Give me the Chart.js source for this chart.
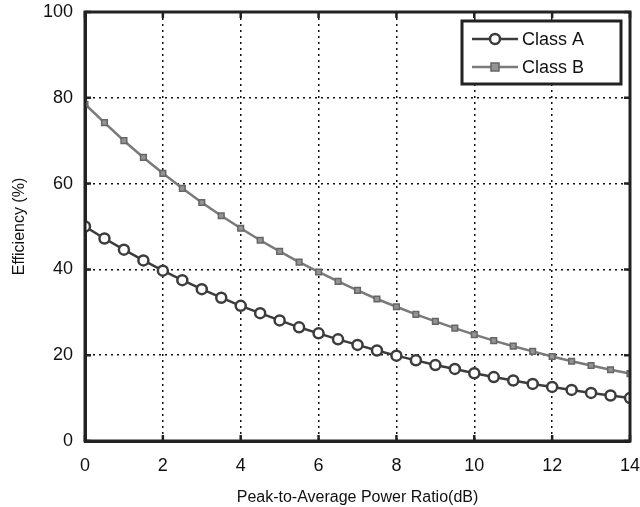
<!DOCTYPE html>
<html>
<head>
<meta charset="utf-8">
<script src="https://cdn.jsdelivr.net/npm/chart.js@4.4.0/dist/chart.umd.min.js"></script>
<style>
  html, body { margin: 0; padding: 0; background: #fff; }
  #wrap { width: 640px; height: 507px; }
</style>
</head>
<body>
<div id="wrap"><canvas id="effChart" width="640" height="507"></canvas></div>
<script>
// PAPR (dB), passo de 0.5
const papr = [0, 0.5, 1, 1.5, 2, 2.5, 3, 3.5, 4, 4.5, 5, 5.5, 6, 6.5, 7, 7.5, 8, 8.5, 9, 9.5, 10, 10.5, 11, 11.5, 12, 12.5, 13, 13.5, 14];
const classA = [50.0, 47.2, 44.6, 42.1, 39.7, 37.5, 35.4, 33.4, 31.5, 29.8, 28.1, 26.5, 25.1, 23.7, 22.4, 21.1, 19.9, 18.8, 17.7, 16.8, 15.8, 14.9, 14.1, 13.3, 12.6, 11.9, 11.2, 10.6, 10.0];
const classB = [78.5, 74.2, 70.0, 66.1, 62.4, 58.9, 55.6, 52.5, 49.6, 46.8, 44.2, 41.7, 39.4, 37.2, 35.1, 33.1, 31.3, 29.5, 27.9, 26.3, 24.8, 23.4, 22.1, 20.9, 19.7, 18.6, 17.6, 16.6, 15.7];
const xTicks = [0, 2, 4, 6, 8, 10, 12, 14];
const yTicks = [0, 20, 40, 60, 80, 100];
const seriesNames = ["Class A", "Class B"];

const FONT = "'Liberation Sans', Arial, sans-serif";

// legenda dentro da área do gráfico, canto superior direito
const boxLegend = {
    id: "boxLegend",
    afterDraw(chart) {
        const ctx = chart.ctx;
        const area = chart.chartArea;
        const x0 = area.right - 168, y0 = area.top + 9, w = 159, h = 63;
        ctx.save();
        ctx.fillStyle = "#fff";
        ctx.fillRect(x0, y0, w, h);
        ctx.strokeStyle = "#222";
        ctx.lineWidth = 3;
        ctx.strokeRect(x0, y0, w, h);
        chart.data.datasets.forEach((ds, i) => {
            const cy = y0 + 18 + i * 28;
            ctx.strokeStyle = ds.borderColor;
            ctx.lineWidth = ds.borderWidth;
            ctx.beginPath();
            ctx.moveTo(x0 + 10, cy);
            ctx.lineTo(x0 + 56, cy);
            ctx.stroke();
            ctx.lineWidth = ds.pointBorderWidth;
            ctx.fillStyle = ds.pointBackgroundColor;
            ctx.strokeStyle = ds.pointBorderColor;
            if (ds.pointStyle === "circle") {
                ctx.beginPath();
                ctx.arc(x0 + 33, cy, ds.pointRadius, 0, Math.PI * 2);
                ctx.fill();
                ctx.stroke();
            } else {
                const r = ds.pointRadius;
                ctx.fillRect(x0 + 33 - r, cy - r, 2 * r, 2 * r);
                ctx.strokeRect(x0 + 33 - r, cy - r, 2 * r, 2 * r);
            }
            ctx.fillStyle = "#111";
            ctx.font = "18px " + FONT;
            ctx.textBaseline = "middle";
            ctx.textAlign = "left";
            ctx.fillText(ds.label, x0 + 60, cy + 1);
        });
        ctx.restore();
    }
};

const ctxEl = document.getElementById("effChart");
new Chart(ctxEl, {
    type: "line",
    data: {
        labels: papr,
        datasets: [
            {
                label: seriesNames[0],
                data: papr.map((x, i) => ({ x: x, y: classA[i] })),
                borderColor: "#3c3c3c",
                borderWidth: 2.5,
                pointStyle: "circle",
                pointRadius: 5,
                pointBorderWidth: 2.5,
                pointBackgroundColor: "#fff",
                pointBorderColor: "#3c3c3c",
            },
            {
                label: seriesNames[1],
                data: papr.map((x, i) => ({ x: x, y: classB[i] })),
                borderColor: "#7a7a7a",
                borderWidth: 2.5,
                pointStyle: "rect",
                pointRadius: 4,
                pointBorderWidth: 1.5,
                pointBackgroundColor: "#949494",
                pointBorderColor: "#666",
            },
        ],
    },
    options: {
        animation: false,
        responsive: false,
        devicePixelRatio: 1,
        layout: { padding: { top: 12, right: 10, left: 0, bottom: 0 } },
        plugins: {
            legend: { display: false },
            tooltip: { enabled: false },
        },
        scales: {
            x: {
                type: "linear",
                min: 0,
                max: 14,
                afterBuildTicks: (axis) => { axis.ticks = xTicks.map(v => ({ value: v })); },
                border: { display: true, color: "#222", width: 3, dash: [2, 4] },
                grid: {
                    color: "#111",
                    lineWidth: 1.5,
                    drawTicks: false,
                },
                ticks: {
                    color: "#111",
                    padding: 14,
                    font: { family: FONT, size: 18 },
                    maxRotation: 0,
                },
                title: {
                    display: true,
                    text: "Peak-to-Average Power Ratio(dB)",
                    color: "#111",
                    font: { family: FONT, size: 16 },
                    padding: { top: 12, bottom: 0 },
                },
                afterFit: (axis) => { axis.height = 66; axis.paddingLeft = 0; axis.paddingRight = 0; },
            },
            y: {
                min: 0,
                max: 100,
                afterBuildTicks: (axis) => { axis.ticks = yTicks.map(v => ({ value: v })); },
                border: { display: true, color: "#222", width: 3, dash: [2, 4] },
                grid: {
                    color: "#111",
                    lineWidth: 1.5,
                    drawTicks: false,
                },
                ticks: {
                    color: "#111",
                    padding: 12,
                    font: { family: FONT, size: 18 },
                },
                title: {
                    display: true,
                    text: "Efficiency (%)",
                    color: "#111",
                    font: { family: FONT, size: 16 },
                    padding: { top: 10, bottom: 0 },
                },
                afterFit: (axis) => { axis.width = 85; axis.paddingTop = 0; axis.paddingBottom = 0; },
            },
        },
    },
    plugins: [
        {
            id: "frame",
            afterDatasetsDraw(chart) {
                const a = chart.chartArea;
                const c = chart.ctx;
                const sx = chart.scales.x, sy = chart.scales.y;
                c.save();
                c.strokeStyle = "#222";
                c.lineWidth = 3;
                c.strokeRect(a.left, a.top, a.right - a.left, a.bottom - a.top);
                // marcas de tick para dentro
                c.lineWidth = 2.5;
                c.beginPath();
                xTicks.forEach(v => {
                    const px = sx.getPixelForValue(v);
                    c.moveTo(px, a.bottom); c.lineTo(px, a.bottom - 6);
                    c.moveTo(px, a.top); c.lineTo(px, a.top + 6);
                });
                yTicks.forEach(v => {
                    const py = sy.getPixelForValue(v);
                    c.moveTo(a.left, py); c.lineTo(a.left + 6, py);
                    c.moveTo(a.right, py); c.lineTo(a.right - 6, py);
                });
                c.stroke();
                c.restore();
            },
        },
        boxLegend,
    ],
});
</script>
</body>
</html>
